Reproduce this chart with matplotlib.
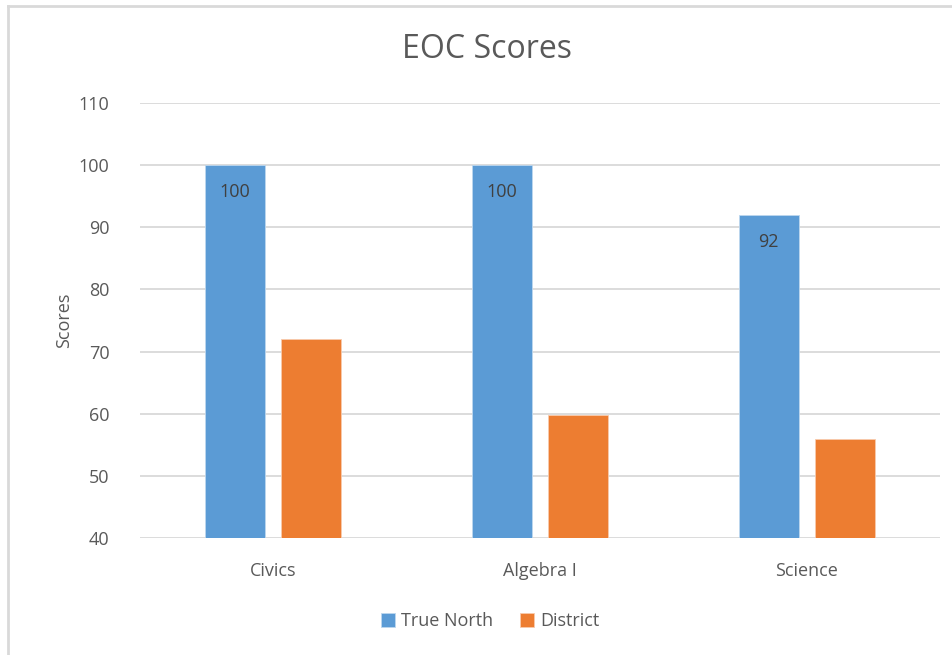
import numpy as np
import matplotlib
matplotlib.use("Agg")
import matplotlib.pyplot as plt
from matplotlib.lines import Line2D

# data
categories = ["Civics", "Algebra I", "Science"]
true_north = [100, 100, 92]
district = [72, 59.8, 55.9]
series_names = ["True North", "District"]
yticks = [40, 50, 60, 70, 80, 90, 100, 110]

plt.rcParams['font.family'] = ['Open Sans', 'DejaVu Sans']
txt = '#595959'

fig = plt.figure(figsize=(9.52, 6.55), dpi=100)
ax = fig.add_axes([140/952, 1-538/655, 800/952, 435/655])

x = np.arange(len(categories))
w = 0.225
off = 0.143
b1 = ax.bar(x - off, true_north, w, bottom=0, color='#5B9BD5', label=series_names[0],
            edgecolor='#BDD7EE', linewidth=0.6, zorder=3)
b2 = ax.bar(x + off, district, w, bottom=0, color='#ED7D31', label=series_names[1],
            edgecolor='#F8CBAD', linewidth=0.6, zorder=3)

for xi, v in zip(x, true_north):
    ax.text(xi - off, v - 4.4, f"{v:g}", ha='center', va='center', fontsize=13,
            color='#404040', zorder=4)

ax.set_xlim(-0.5, 2.5)
ax.set_ylim(40, 110)
ax.set_yticks(yticks)
ax.set_xticks(x)
ax.set_xticklabels(categories)
ax.tick_params(axis='both', length=0, labelsize=13, colors=txt)
ax.tick_params(axis='y', pad=22)
ax.tick_params(axis='x', pad=17)
ax.grid(axis='y', color='#D9D9D9', linewidth=1.3, zorder=0)
for s in ax.spines.values():
    s.set_visible(False)
ax.set_ylabel("Scores", fontsize=13, color=txt, labelpad=4)

fig.text(487/952, 1-50/655, "EOC Scores", ha='center', va='center', fontsize=23, color=txt)

fig.legend(handles=[b1, b2], loc='center', bbox_to_anchor=(490/952, 1-621/655), ncol=2,
           frameon=False, fontsize=13, handlelength=0.8, handleheight=0.8,
           handletextpad=0.3, columnspacing=1.5, labelcolor=txt)

# outer frame (left and top edges visible)
fig.add_artist(Line2D([8/952, 8/952], [0, 1-6/655], color='#D9D9D9', linewidth=2))
fig.add_artist(Line2D([8/952, 1], [1-6/655, 1-6/655], color='#D9D9D9', linewidth=2))

fig.savefig("out.png", dpi=100)
